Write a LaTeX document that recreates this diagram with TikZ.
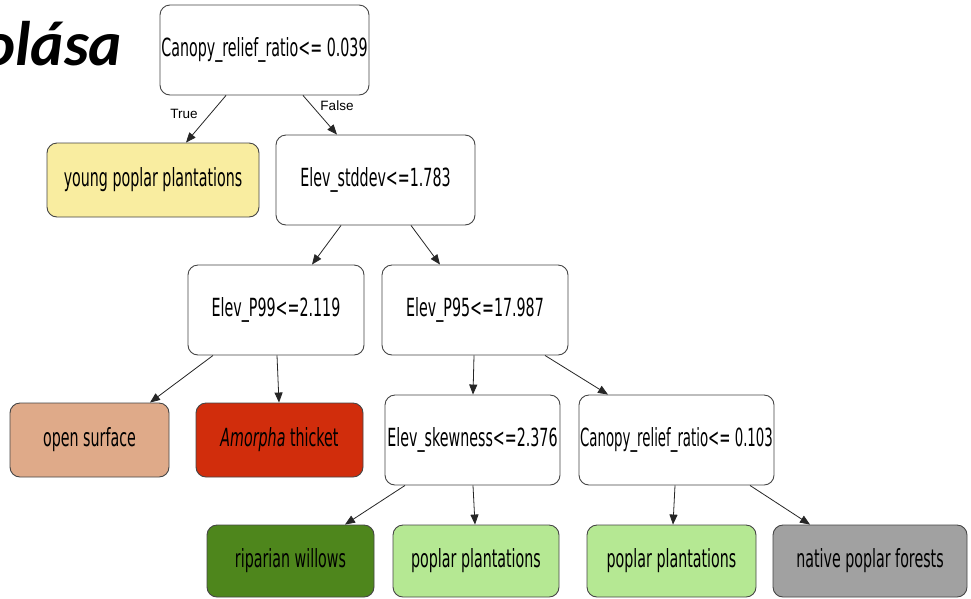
\documentclass[tikz,border=0pt]{standalone}
\usepackage{fontspec}
\usepackage{graphicx}
\usetikzlibrary{arrows.meta}
\newfontfamily\nodefont[FakeStretch=0.57]{DejaVu Sans}
\newfontfamily\labfont{Liberation Sans}
\newfontfamily\titlefont{Carlito}
\definecolor{boxline}{HTML}{454545}
\definecolor{cyellow}{HTML}{F9EDA0}
\definecolor{ctan}{HTML}{DFAA89}
\definecolor{cred}{HTML}{D12D0C}
\definecolor{cdgreen}{HTML}{4E861C}
\definecolor{clgreen}{HTML}{B5E893}
\definecolor{cgray}{HTML}{A1A1A1}
\begin{document}
\begin{tikzpicture}[x=1pt,y=-1pt,
  box/.style={draw=boxline, line width=0.9pt, rounded corners=10pt, inner sep=0pt,
    font=\nodefont\fontsize{25}{30}\selectfont, text=black, fill=white},
  sz/.style 2 args={minimum width=#1pt, minimum height=#2pt},
  conn/.style={draw=black!85, line width=0.8pt, -{Triangle[length=10pt,width=8pt]}},
  lab/.style={font=\labfont\fontsize{13.5}{15}\selectfont, inner sep=0pt}]
\fill[white] (0,0) rectangle (971,598);
\useasboundingbox (0,0) rectangle (971,598);
\begin{scope}
\clip (0,0) rectangle (971,598);
\node[anchor=base west, inner sep=0pt, font=\titlefont\bfseries\itshape\fontsize{63}{70}\selectfont] (title) at (-18,65) {olása};
\end{scope}

\node[box, sz={209}{90}] (root) at (264.5,50) {Canopy\_relief\_ratio<= 0.039};
\node[box, sz={212}{74}, fill=cyellow] (young) at (153,180) {young poplar plantations};
\node[box, sz={199}{90}] (stddev) at (375.5,180) {Elev\_stddev<=1.783};
\node[box, sz={176}{90}] (p99) at (276,310) {Elev\_P99<=2.119};
\node[box, sz={186}{90}] (p95) at (475,310) {Elev\_P95<=17.987};
\node[box, sz={159}{74}, fill=ctan] (open) at (89.5,440) {open surface};
\node[box, sz={167}{74}, fill=cred] (amorpha) at (279.5,440) {\textit{Amorpha} thicket};
\node[box, sz={175}{90}] (skew) at (472.5,440) {Elev\_skewness<=2.376};
\node[box, sz={195}{90}] (canopy2) at (676.5,440) {\scalebox{0.935}[1]{Canopy\_relief\_ratio<= 0.103}};
\node[box, sz={167}{72}, fill=cdgreen] (riparian) at (290.5,561) {riparian willows};
\node[box, sz={166}{72}, fill=clgreen] (poplar1) at (476,561) {poplar plantations};
\node[box, sz={169}{72}, fill=clgreen] (poplar2) at (671.5,561) {poplar plantations};
\node[box, sz={194}{72}, fill=cgray] (native) at (870,561) {native poplar forests};

\draw[conn] ([xshift=-38.5pt]root.south) -- ([xshift=33pt]young.north);
\draw[conn] ([xshift=38.5pt]root.south) -- ([xshift=-38.5pt]stddev.north);
\draw[conn] ([xshift=-34.5pt]stddev.south) -- ([xshift=36pt]p99.north);
\draw[conn] ([xshift=35.5pt]stddev.south) -- ([xshift=-35pt]p95.north);
\draw[conn] ([xshift=-63pt]p99.south) -- ([xshift=60.5pt]open.north);
\draw[conn] ([xshift=1pt]p99.south) -- ([xshift=-0.5pt]amorpha.north);
\draw[conn] ([xshift=-1pt]p95.south) -- ([xshift=0.5pt]skew.north);
\draw[conn] ([xshift=70pt]p95.south) -- ([xshift=-68.5pt]canopy2.north);
\draw[conn] ([xshift=-67.5pt]skew.south) -- ([xshift=54.5pt]riparian.north);
\draw[conn] ([xshift=0.5pt]skew.south) -- ([xshift=-1pt]poplar1.north);
\draw[conn] ([xshift=-1.5pt]canopy2.south) -- ([xshift=1.5pt]poplar2.north);
\draw[conn] ([xshift=73.5pt]canopy2.south) -- ([xshift=-60pt]native.north);

\node[lab] (ltrue) at (184,114) {True};
\node[lab] (lfalse) at (337,106) {False};
\end{tikzpicture}
\end{document}
